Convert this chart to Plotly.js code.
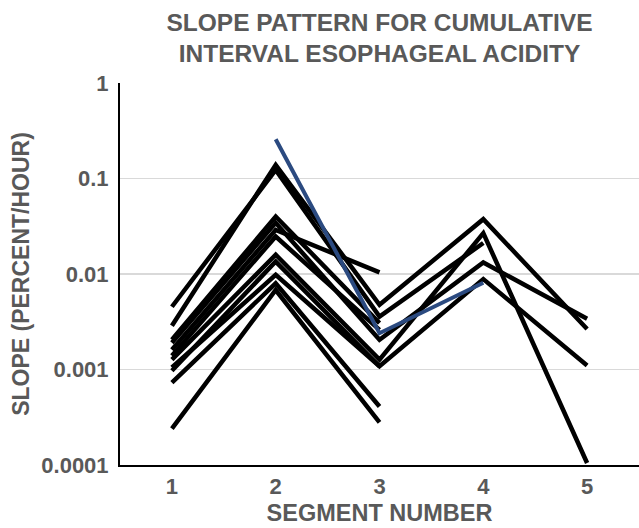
<!DOCTYPE html>
<html>
<head>
<meta charset="utf-8">
<script src="https://cdn.plot.ly/plotly-3.0.1.min.js"></script>
<style>html,body{margin:0;padding:0;background:#fff;}#chart{width:639px;height:528px;}</style>
</head>
<body>
<div id="chart"></div>
<script>
// Segment numbers (x categories)
const segments = [1, 2, 3, 4, 5];
const xTickLabels = ['1', '2', '3', '4', '5'];
const yTickVals = [0.0001, 0.001, 0.01, 0.1, 1];
const yTickLabels = ['0.0001', '0.001', '0.01', '0.1', '1'];

// Slope values per subject (percent/hour), null = no data
const subj01 = [0.00454, 0.123, 0.00359, 0.0211, null];
const subj02 = [0.00287, 0.139, 0.00476, 0.0375, 0.00265];
const subj03 = [0.00205, 0.040, 0.00306, null, null];
const subj04 = [0.00191, 0.0343, 0.00205, 0.0132, 0.0034];
const subj05 = [0.00161, 0.029, 0.0104, null, null];
const subj06 = [0.00139, 0.0247, 0.0026, null, null];
const subj07 = [0.00127, 0.0159, 0.00127, 0.0268, 0.000105];
const subj08 = [0.00097, 0.0135, 0.00108, 0.00885, 0.0011];
const subj09 = [0.00105, 0.0098, 0.00108, null, null];
const subj10 = [0.00073, 0.0080, 0.00041, null, null];
const subj11 = [0.00024, 0.0068, 0.00028, null, null];
const subjBlue = [null, 0.258, 0.0024, 0.0081, null];

const blackSeries = [subj01, subj02, subj03, subj04, subj05, subj06, subj07, subj08, subj09, subj10, subj11];

const traces = blackSeries.map(s => ({
  x: segments, y: s, type: 'scatter', mode: 'lines',
  line: {color: '#000000', width: 4.5}, connectgaps: false, hoverinfo: 'skip'
}));
traces.push({
  x: segments, y: subjBlue, type: 'scatter', mode: 'lines',
  line: {color: '#2B4A80', width: 4}, connectgaps: false, hoverinfo: 'skip'
});

const fontFam = 'Liberation Sans, Arial, sans-serif';
const grey = '#595959';

const layout = {
  width: 639, height: 528,
  margin: {l: 120, r: 0, t: 83, b: 63, pad: 0},
  paper_bgcolor: '#ffffff', plot_bgcolor: '#ffffff',
  showlegend: false,
  title: {
    text: 'SLOPE PATTERN FOR CUMULATIVE<br>INTERVAL ESOPHAGEAL ACIDITY',
    font: {family: fontFam, size: 24.5, color: grey, weight: 'bold'},
    xref: 'paper', x: 0.5, xanchor: 'center',
    yref: 'container', y: 0.942, yanchor: 'top'
  },
  xaxis: {
    range: [0.5, 5.5],
    tickvals: segments, ticktext: xTickLabels,
    showgrid: false, zeroline: false,
    showline: true, linecolor: '#000000', linewidth: 2,
    ticks: '', ticklabelstandoff: 1,
    tickfont: {family: fontFam, size: 22, color: grey, weight: 'bold'},
    title: {text: 'SEGMENT NUMBER', standoff: 6,
      font: {family: fontFam, size: 23.5, color: grey, weight: 'bold'}}
  },
  yaxis: {
    type: 'log', range: [-4, 0],
    tickvals: yTickVals, ticktext: yTickLabels,
    showgrid: true, gridcolor: '#D9D9D9', gridwidth: 1.5,
    zeroline: false,
    showline: true, linecolor: '#000000', linewidth: 2,
    ticks: '', ticklabelstandoff: 5,
    tickfont: {family: fontFam, size: 22, color: grey, weight: 'bold'},
    title: {text: 'SLOPE (PERCENT/HOUR)', standoff: 5,
      font: {family: fontFam, size: 23, color: grey, weight: 'bold'}}
  }
};

Plotly.newPlot('chart', traces, layout, {staticPlot: true, displayModeBar: false});
</script>
</body>
</html>
